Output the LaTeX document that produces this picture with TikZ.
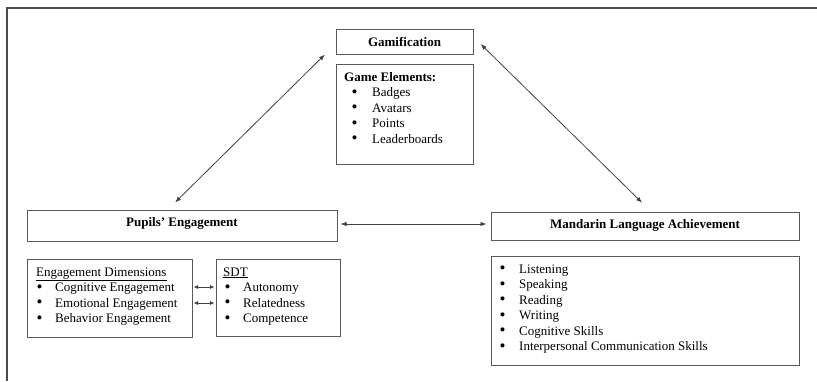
\documentclass[tikz,border=0pt]{standalone}
\usepackage{fontspec}
\setmainfont{Liberation Serif}
\usetikzlibrary{arrows.meta,fit}
\tikzset{
  box/.style={draw=black!65, line width=1pt, inner sep=0pt, rectangle},
  txt/.style={inner sep=0pt, anchor=base west, font=\fontsize{13}{15.5}\selectfont},
  ttl/.style={inner sep=0pt, anchor=base, font=\fontsize{13}{15.5}\selectfont\bfseries},
  dbl/.style={draw=black!75, line width=0.8pt, {Latex[length=6pt,width=4.5pt]}-{Latex[length=6pt,width=4.5pt]}},
  sdbl/.style={draw=black!75, line width=0.8pt, {Latex[length=4.5pt,width=4pt]}-{Latex[length=4.5pt,width=4pt]}},
  frame/.style={draw=black!70, line width=1.6pt}
}
\newcommand{\bulletrow}[2]{\makebox[#1][l]{\raisebox{-0.5pt}{\fontsize{17}{17}\selectfont\textbullet}}#2}
\begin{document}
\begin{tikzpicture}[x=1pt,y=-1pt]
\useasboundingbox (0,0) rectangle (817,381);
% frame
\coordinate (fTL) at (7,8);
\coordinate (fTR) at (817,8);
\coordinate (fBL) at (7,381);
\draw[frame] (fBL) -- (fTL) -- (fTR);

% boxes
\node[box, fit={(336,29) (473,54)}] (gam) {};
\node[box, fit={(336,64) (473,164)}] (ge) {};
\node[box, fit={(27,210) (337,241)}] (pe) {};
\node[box, fit={(27,259) (192,337)}] (ed) {};
\node[box, fit={(216,259) (340,336)}] (sdt) {};
\node[box, fit={(491,212) (799,240)}] (ml) {};
\node[box, fit={(491,256) (799,365)}] (ms) {};

% titles
\node[ttl] (gamT) at (404.5,46) {Gamification};
\node[ttl] (peT) at (182,226) {Pupils’ Engagement};
\node[ttl] (mlT) at (645,228) {Mandarin Language Achievement};

% game elements
\node[txt, font=\fontsize{13}{15.5}\selectfont\bfseries] (geT) at (344,81) {Game Elements:};
\node[txt] (ge1) at (351.5,96.5) {\bulletrow{20.5pt}{Badges}};
\node[txt] (ge2) at (351.5,112) {\bulletrow{20.5pt}{Avatars}};
\node[txt] (ge3) at (351.5,127.5) {\bulletrow{20.5pt}{Points}};
\node[txt] (ge4) at (351.5,143) {\bulletrow{20.5pt}{Leaderboards}};

% engagement dimensions
\node[txt] (edT) at (36,276) {\underline{Engagement Dimensions}};
\node[txt] (ed1) at (36.5,291.5) {\bulletrow{18.5pt}{Cognitive Engagement}};
\node[txt] (ed2) at (36.5,307) {\bulletrow{18.5pt}{Emotional Engagement}};
\node[txt] (ed3) at (36.5,322.5) {\bulletrow{18.5pt}{Behavior Engagement}};

% SDT
\node[txt] (sdtT) at (223,276) {\underline{SDT}};
\node[txt] (sdt1) at (224.5,291.5) {\bulletrow{18.5pt}{Autonomy}};
\node[txt] (sdt2) at (224.5,307) {\bulletrow{18.5pt}{Relatedness}};
\node[txt] (sdt3) at (224.5,322.5) {\bulletrow{18.5pt}{Competence}};

% Mandarin skills
\node[txt] (ms1) at (499.5,273) {\bulletrow{19.5pt}{Listening}};
\node[txt] (ms2) at (499.5,288.5) {\bulletrow{19.5pt}{Speaking}};
\node[txt] (ms3) at (499.5,304) {\bulletrow{19.5pt}{Reading}};
\node[txt] (ms4) at (499.5,319.5) {\bulletrow{19.5pt}{Writing}};
\node[txt] (ms5) at (499.5,335) {\bulletrow{19.5pt}{Cognitive Skills}};
\node[txt] (ms6) at (499.5,350.5) {\bulletrow{19.5pt}{Interpersonal Communication Skills}};

% connectors
\draw[dbl, shorten <=10pt, shorten >=15pt] ([xshift=-14pt]pe.north) -- ([yshift=-2.5pt]gam.west);
\draw[dbl, shorten <=10pt, shorten >=12.5pt] ([yshift=4.5pt]gam.east) -- ([xshift=6pt]ml.north);
\coordinate (hy) at (0,224);
\draw[dbl, shorten <=3pt, shorten >=4pt] (pe.east |- hy) -- (ml.west |- hy);
\coordinate (r1) at (0,287);
\coordinate (r2) at (0,303);
\draw[sdbl, shorten <=1pt, shorten >=1pt] (ed.east |- r1) -- (sdt.west |- r1);
\draw[sdbl, shorten <=1pt, shorten >=1pt] (ed.east |- r2) -- (sdt.west |- r2);
\end{tikzpicture}
\end{document}
